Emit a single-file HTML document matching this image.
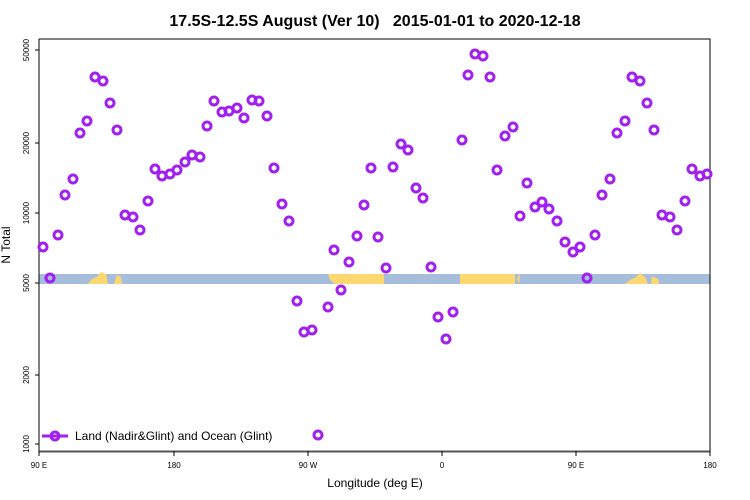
<!DOCTYPE html><html><head><style>body{margin:0;background:#fff}svg{display:block}</style></head><body>
<svg width="750" height="500" xmlns="http://www.w3.org/2000/svg" font-family="Liberation Sans, sans-serif">
<text x="375" y="26" text-anchor="middle" font-size="16" font-weight="bold">17.5S-12.5S August (Ver 10)&#160;&#160; 2015-01-01 to 2020-12-18</text>
<rect x="39" y="274" width="671" height="10" fill="#a6bddb"/>
<path d="M88,284 L92,279 L97,277 L101,272 L106,274 L108,284Z M114,284 L117,275 L121,277 L122,284Z" fill="#fdd870"/>
<path d="M328,274 L384,274 L384,284 L335,284 Q329,280 328,274Z" fill="#fdd870"/>
<path d="M460,274 L515,274 L515,284 L460,284Z M517,278 L520,274 L519,284Z" fill="#fdd870"/>
<path d="M625,284 L630,280 L636,277 L640,273 L645,277 L648,284Z M651,284 L652,276 L658,279 L659,284Z" fill="#fdd870"/>
<g stroke="#000" fill="none">
<path d="M39,39 L710,39 L710,451"/>
<path d="M39,39 L39,456" />
<path d="M39,451.5 L710,451.5" stroke="#555" stroke-width="2"/>
<path d="M35,50 H39 M35,143 H39 M35,213 H39 M35,283 H39 M35,375 H39 M35,444 H39"/>
<path d="M39,451 V456 M174,451 V456 M308,451 V456 M442,451 V456 M576,451 V456 M710,451 V456"/>
</g>
<g font-size="8" text-anchor="middle">
<text transform="translate(29,50) rotate(-90)">50000</text>
<text transform="translate(29,143) rotate(-90)">20000</text>
<text transform="translate(29,213) rotate(-90)">10000</text>
<text transform="translate(29,283) rotate(-90)">5000</text>
<text transform="translate(29,375) rotate(-90)">2000</text>
<text transform="translate(29,444) rotate(-90)">1000</text>
<text x="39" y="468">90 E</text><text x="174" y="468">180</text><text x="308" y="468">90 W</text><text x="442" y="468">0</text><text x="576" y="468">90 E</text><text x="710" y="468">180</text>
</g>
<text x="375" y="487" text-anchor="middle" font-size="12">Longitude (deg E)</text>
<text transform="translate(10,245) rotate(-90)" text-anchor="middle" font-size="12">N Total</text>
<g fill="none" stroke="#a020f0" stroke-width="3">
<path d="M42,436 H68"/><circle cx="55" cy="436" r="4"/>
<circle cx="43" cy="247" r="4"/><circle cx="50" cy="278" r="4"/><circle cx="58" cy="235" r="4"/><circle cx="65" cy="195" r="4"/><circle cx="73" cy="179" r="4"/><circle cx="80" cy="133" r="4"/><circle cx="87" cy="121" r="4"/><circle cx="95" cy="77" r="4"/><circle cx="103" cy="81" r="4"/><circle cx="110" cy="103" r="4"/><circle cx="117" cy="130" r="4"/><circle cx="125" cy="215" r="4"/><circle cx="133" cy="217" r="4"/><circle cx="140" cy="230" r="4"/><circle cx="148" cy="201" r="4"/><circle cx="155" cy="169" r="4"/><circle cx="162" cy="176" r="4"/><circle cx="170" cy="174" r="4"/><circle cx="177" cy="170" r="4"/><circle cx="185" cy="162" r="4"/><circle cx="192" cy="155" r="4"/><circle cx="200" cy="157" r="4"/><circle cx="207" cy="126" r="4"/><circle cx="214" cy="101" r="4"/><circle cx="222" cy="112" r="4"/><circle cx="229" cy="111" r="4"/><circle cx="237" cy="108" r="4"/><circle cx="244" cy="118" r="4"/><circle cx="252" cy="100" r="4"/><circle cx="259" cy="101" r="4"/><circle cx="267" cy="116" r="4"/><circle cx="274" cy="168" r="4"/><circle cx="282" cy="204" r="4"/><circle cx="289" cy="221" r="4"/><circle cx="297" cy="301" r="4"/><circle cx="304" cy="332" r="4"/><circle cx="312" cy="330" r="4"/><circle cx="318" cy="435" r="4"/><circle cx="328" cy="307" r="4"/><circle cx="334" cy="250" r="4"/><circle cx="341" cy="290" r="4"/><circle cx="349" cy="262" r="4"/><circle cx="357" cy="236" r="4"/><circle cx="364" cy="205" r="4"/><circle cx="371" cy="168" r="4"/><circle cx="378" cy="237" r="4"/><circle cx="386" cy="268" r="4"/><circle cx="393" cy="167" r="4"/><circle cx="401" cy="144" r="4"/><circle cx="408" cy="150" r="4"/><circle cx="416" cy="188" r="4"/><circle cx="423" cy="198" r="4"/><circle cx="431" cy="267" r="4"/><circle cx="438" cy="317" r="4"/><circle cx="446" cy="339" r="4"/><circle cx="453" cy="312" r="4"/><circle cx="462" cy="140" r="4"/><circle cx="468" cy="75" r="4"/><circle cx="475" cy="54" r="4"/><circle cx="483" cy="56" r="4"/><circle cx="490" cy="77" r="4"/><circle cx="497" cy="170" r="4"/><circle cx="505" cy="136" r="4"/><circle cx="513" cy="127" r="4"/><circle cx="520" cy="216" r="4"/><circle cx="527" cy="183" r="4"/><circle cx="535" cy="207" r="4"/><circle cx="542" cy="202" r="4"/><circle cx="549" cy="209" r="4"/><circle cx="557" cy="221" r="4"/><circle cx="565" cy="242" r="4"/><circle cx="573" cy="252" r="4"/><circle cx="580" cy="247" r="4"/><circle cx="587" cy="278" r="4"/><circle cx="595" cy="235" r="4"/><circle cx="602" cy="195" r="4"/><circle cx="610" cy="179" r="4"/><circle cx="617" cy="133" r="4"/><circle cx="625" cy="121" r="4"/><circle cx="632" cy="77" r="4"/><circle cx="640" cy="81" r="4"/><circle cx="647" cy="103" r="4"/><circle cx="654" cy="130" r="4"/><circle cx="662" cy="215" r="4"/><circle cx="670" cy="217" r="4"/><circle cx="677" cy="230" r="4"/><circle cx="685" cy="201" r="4"/><circle cx="692" cy="169" r="4"/><circle cx="700" cy="176" r="4"/><circle cx="707" cy="174" r="4"/>
</g>
<text x="75" y="440" font-size="12">Land (Nadir&amp;Glint) and Ocean (Glint)</text>
</svg></body></html>
